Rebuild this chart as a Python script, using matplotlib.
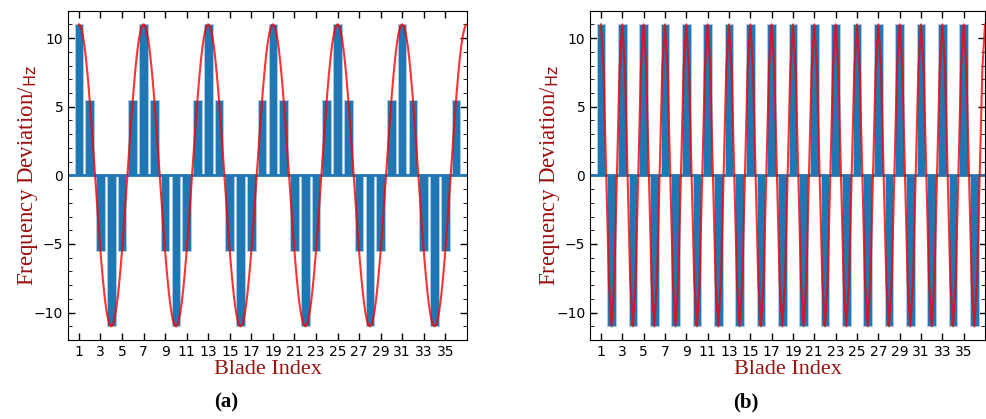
import numpy as np
import matplotlib.pyplot as plt

# blade index and frequency deviation (Hz)
blades = list(range(1, 37))
dev_a = [11, 5.5, -5.5, -11, -5.5, 5.5, 11, 5.5, -5.5, -11, -5.5, 5.5,
         11, 5.5, -5.5, -11, -5.5, 5.5, 11, 5.5, -5.5, -11, -5.5, 5.5,
         11, 5.5, -5.5, -11, -5.5, 5.5, 11, 5.5, -5.5, -11, -5.5, 5.5]
dev_b = [11, -11, 11, -11, 11, -11, 11, -11, 11, -11, 11, -11,
         11, -11, 11, -11, 11, -11, 11, -11, 11, -11, 11, -11,
         11, -11, 11, -11, 11, -11, 11, -11, 11, -11, 11, -11]

# harmonic drawn over the bars: amplitude and period (in blades)
amp = 11
period_a = 6
period_b = 2
xticks = list(range(1, 37, 2))

label_col = "#9b1010"
serif = "Liberation Serif"

fig = plt.figure(figsize=(9.87, 4.19), dpi=100)
ax_a = fig.add_axes([0.069, 0.1885, 0.404, 0.786])
ax_b = fig.add_axes([0.598, 0.1885, 0.400, 0.786])


def draw(ax, vals, period, per_blade):
    ax.bar(blades, vals, width=0.8, color="tab:blue", edgecolor="#a9cbe6",
           linewidth=0.7, zorder=2)
    ax.axhline(0, color="tab:blue", lw=2, zorder=2.5)
    xx = np.linspace(1, 37, 36 * per_blade + 1)
    ax.plot(xx, amp * np.cos(2 * np.pi * (xx - 1) / period), color="red",
            alpha=0.8, lw=1.5, zorder=3)
    ax.set_xlim(0, 37)
    ax.set_ylim(-12, 12)
    ax.set_xticks(xticks)
    ax.set_yticks([-10, -5, 0, 5, 10])
    ax.set_yticks(range(-12, 13), minor=True)
    ax.tick_params(direction="in", top=True, right=True, labelsize=10,
                   length=5, width=1)
    ax.tick_params(which="minor", direction="in", right=True, length=3)
    ax.set_xlabel("Blade Index", family=serif, fontsize=16, color=label_col,
                  labelpad=1)
    ax.set_ylabel(r"Frequency Deviation/$_{\mathrm{Hz}}$", family=serif,
                  fontsize=16.5, color=label_col, labelpad=-4)


draw(ax_a, dev_a, period_a, 20)
draw(ax_b, dev_b, period_b, 4)

fig.text(226 / 987, 1 - 402 / 419, "(a)", family=serif, fontsize=15,
         fontweight="bold", ha="center", va="center")
fig.text(746 / 987, 1 - 402 / 419, "(b)", family=serif, fontsize=15,
         fontweight="bold", ha="center", va="center")

fig.savefig("out.png", dpi=100)
